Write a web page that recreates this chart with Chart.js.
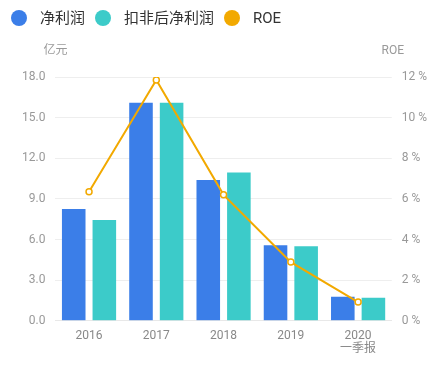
<!DOCTYPE html>
<html>
<head>
<meta charset="utf-8">
<script src="https://cdn.jsdelivr.net/npm/chart.js@4/dist/chart.umd.min.js"></script>
<style>
  html, body { margin: 0; padding: 0; background: #fff; }
  #wrap { position: relative; width: 436px; height: 370px; }
  #legend {
    position: absolute; left: 11px; top: 10px; height: 16px;
    display: flex; align-items: center;
    font: 15px Roboto, "Noto Sans CJK SC", sans-serif; color: #333;
  }
  #legend .dot { width: 16px; height: 16px; border-radius: 50%; margin-right: 13px; }
  #legend .item { display: flex; align-items: center; margin-right: 10px; line-height: 16px; }
</style>
</head>
<body>
<div id="wrap">
  <div id="legend"></div>
  <canvas id="profitChart"></canvas>
</div>
<script>
// data
const years = ['2016', '2017', '2018', '2019', ['2020', '一季报']];
const netProfit = [8.25, 16.1, 10.4, 5.58, 1.77];       // 亿元
const deductedProfit = [7.45, 16.1, 10.94, 5.5, 1.7];   // 亿元
const roe = [6.35, 11.85, 6.2, 2.89, 0.92];             // %

const leftTicks = { min: 0, max: 18, step: 3 };
const rightTicks = { min: 0, max: 12, step: 2 };

const BLUE = '#3b7ee8';
const TEAL = '#3ccbc9';
const ORANGE = '#f2a900';
const FONT = 'Roboto, "Noto Sans CJK SC", sans-serif';

// draws the small unit titles above both y axes
const axisTitles = {
    id: 'axisTitles',
    afterDraw(chart) {
        const { ctx, chartArea } = chart;
        ctx.save();
        ctx.font = '12px ' + FONT;
        ctx.fillStyle = '#999';
        ctx.textAlign = 'center';
        ctx.textBaseline = 'middle';
        ctx.fillText('亿元', chartArea.left, chartArea.top - 26);
        ctx.fillText('ROE', chartArea.right + 1, chartArea.top - 26);
        ctx.restore();
    }
};

const ctx = document.getElementById('profitChart').getContext('2d');
const chart = new Chart(ctx, {
    type: 'bar',
    data: {
        labels: years,
        datasets: [{
            label: '净利润',
            data: netProfit,
            backgroundColor: BLUE,
            borderWidth: 0,
            yAxisID: 'y',
            order: 1,
        }, {
            label: '扣非后净利润',
            data: deductedProfit,
            backgroundColor: TEAL,
            borderWidth: 0,
            yAxisID: 'y',
            order: 1,
        }, {
            type: 'line',
            label: 'ROE',
            data: roe,
            borderColor: ORANGE,
            backgroundColor: ORANGE,
            borderWidth: 2,
            pointRadius: 3,
            pointBackgroundColor: '#fff',
            pointBorderColor: ORANGE,
            pointBorderWidth: 1.5,
            tension: 0,
            yAxisID: 'y1',
            order: 0,
        }]
    },
    options: {
        responsive: true,
        maintainAspectRatio: false,
        animation: false,
        layout: { padding: { left: 12, right: -1, top: 77, bottom: 6 } },
        datasets: {
            bar: { categoryPercentage: 0.91, barPercentage: 0.77 }
        },
        plugins: {
            legend: { display: false },
            tooltip: { enabled: false },
        },
        scales: {
            x: {
                grid: { display: false, drawTicks: false },
                border: { color: '#e8e8e8' },
                ticks: {
                    color: '#888',
                    font: { size: 12, family: FONT, lineHeight: 1.05 },
                    maxRotation: 0,
                    padding: 9,
                }
            },
            y: {
                position: 'left',
                min: leftTicks.min,
                max: leftTicks.max,
                border: { display: false },
                grid: { color: '#eeeeee', drawTicks: false },
                ticks: {
                    stepSize: leftTicks.step,
                    color: '#999',
                    padding: 10,
                    font: { size: 12, family: FONT },
                    callback: v => v.toFixed(1),
                }
            },
            y1: {
                position: 'right',
                min: rightTicks.min,
                max: rightTicks.max,
                border: { display: false },
                grid: { display: false, drawTicks: false },
                ticks: {
                    stepSize: rightTicks.step,
                    color: '#999',
                    padding: 10,
                    font: { size: 12, family: FONT },
                    callback: v => v + ' %',
                }
            }
        }
    },
    plugins: [axisTitles]
});

// html legend, built from the chart's datasets
const legendEl = document.getElementById('legend');
chart.data.datasets.forEach(ds => {
    const item = document.createElement('div');
    item.className = 'item';
    const dot = document.createElement('span');
    dot.className = 'dot';
    dot.style.background = ds.type === 'line' ? ds.borderColor : ds.backgroundColor;
    const text = document.createElement('span');
    text.textContent = ds.label;
    item.appendChild(dot);
    item.appendChild(text);
    legendEl.appendChild(item);
});
</script>
</body>
</html>
